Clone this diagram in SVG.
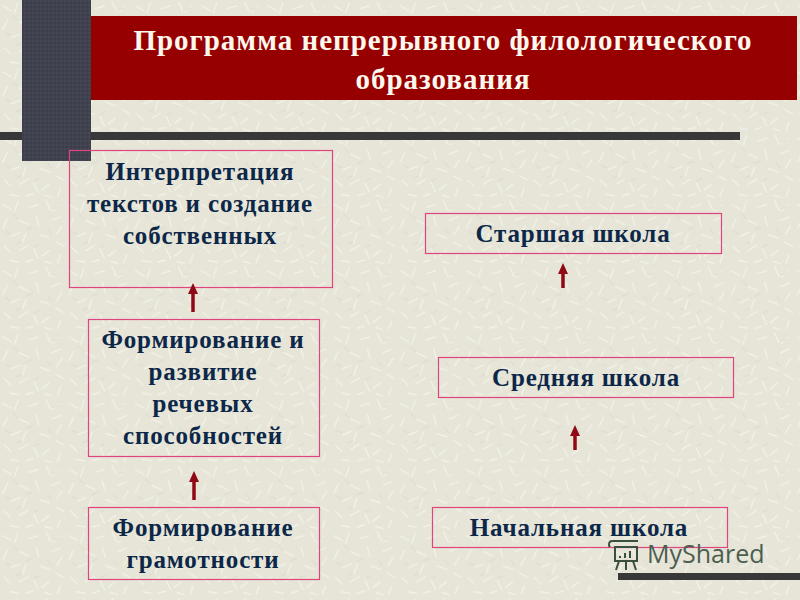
<svg xmlns="http://www.w3.org/2000/svg" width="800" height="600" viewBox="0 0 800 600">
<style>
.box{fill:none;stroke:#e0457f;stroke-width:1.2}
.t{font-family:"Liberation Serif","Times New Roman",serif;font-weight:bold;font-size:25px;fill:#0c2748;text-anchor:middle;letter-spacing:.85px}
.h{font-family:"Liberation Serif","Times New Roman",serif;font-weight:bold;font-size:29px;fill:#fdf8ee;text-anchor:middle;letter-spacing:1px}
.arr{stroke:#8f0a14;stroke-width:3.5;fill:none;marker-end:url(#ah)}
</style>
<defs>
<marker id="ah" markerUnits="userSpaceOnUse" markerWidth="12" markerHeight="12" refX="1" refY="5" orient="auto">
<path d="M0 0L11 5L0 10Z" fill="#8f0a14"/>
</marker>
<pattern id="bg" width="92" height="92" patternUnits="userSpaceOnUse" patternTransform="scale(.72)">
<rect width="92" height="92" fill="#e6e5d8"/>
<path d="M4 8l12 7M25 4l-5 14M40 12l13-4M64 3l6 13M82 9l-9 8M10 28l-6 13M27 30l13 6M50 24l4 14M72 30l12-5M86 38l-7 11M16 52l12-5M36 48l-5 13M55 50l14 5M78 60l10 6M6 66l9 9M27 72l12-7M47 70l6 13M68 72l-10 8M84 78l-4 11M14 86l12 2M36 88l10-3M62 87l10 3" stroke="#f5f4eb" stroke-width="1.6" fill="none" stroke-linecap="round"/>
<path d="M18 22l7 6M44 40l-8 3M66 42l5 7M30 60l-7 3M74 14l7-3M54 64l-6 3M8 46l7 3" stroke="#d8d7c8" stroke-width="1.2" fill="none" stroke-linecap="round"/>
</pattern>
<pattern id="dots" width="4" height="4" patternUnits="userSpaceOnUse">
<rect width="4" height="4" fill="#3f414f"/>
<circle cx="1" cy="1" r=".6" fill="#585a68"/>
<circle cx="3" cy="3" r=".6" fill="#2f303c"/>
</pattern>
</defs>
<rect width="800" height="600" fill="url(#bg)"/>
<g id="decor">
<rect x="90" y="16" width="707" height="84" fill="#960000"/>
<rect x="0" y="132" width="740" height="8" fill="#383838"/>
<rect x="22" y="0" width="69" height="161" fill="url(#dots)"/>
<rect x="618" y="573" width="182" height="7" fill="#383838"/>
</g>
<g id="title">
<text class="h" x="443" y="50">Программа непрерывного филологического</text>
<text class="h" x="443" y="89">образования</text>
</g>
<g id="node-interpretation">
<rect class="box" x="69.5" y="150.5" width="263" height="137"/>
<text class="t" x="200" y="180">Интерпретация</text>
<text class="t" x="200" y="212">текстов и создание</text>
<text class="t" x="200" y="244">собственных</text>
</g>
<g id="node-speech">
<rect class="box" x="88.5" y="319.5" width="231" height="137"/>
<text class="t" x="203" y="348">Формирование и</text>
<text class="t" x="203" y="380">развитие</text>
<text class="t" x="203" y="412">речевых</text>
<text class="t" x="203" y="444">способностей</text>
</g>
<g id="node-literacy">
<rect class="box" x="88.5" y="507.5" width="231" height="72"/>
<text class="t" x="203" y="536">Формирование</text>
<text class="t" x="203" y="568">грамотности</text>
</g>
<g id="node-senior">
<rect class="box" x="425.5" y="213.5" width="296" height="40"/>
<text class="t" x="573" y="242">Старшая школа</text>
</g>
<g id="node-middle">
<rect class="box" x="438.5" y="357.5" width="295" height="40"/>
<text class="t" x="586" y="386">Средняя школа</text>
</g>
<g id="node-primary">
<rect class="box" x="432.5" y="507.5" width="295" height="40"/>
<text class="t" x="579" y="536">Начальная школа</text>
</g>
<g id="connectors">
<path class="arr" d="M193 312V293"/>
<path class="arr" d="M194 500V481"/>
<path class="arr" d="M563 288V273"/>
<path class="arr" d="M575 450V435"/>
</g>
<g id="watermark">
<path d="M612 541h26M612 541c-3 0-4 4-2 6M615 547h22v14h-22zM619 561l-3 9M626 561v9M633 561l3 9M620 558v-2M625 558v-5M630 558v-7" fill="none" stroke="#3a4f40" stroke-width="2"/>
<text x="647" y="563" font-family="'Open Sans','Noto Sans',sans-serif" font-size="25" fill="#4c5e50">MyShared</text>
</g>
</svg>
